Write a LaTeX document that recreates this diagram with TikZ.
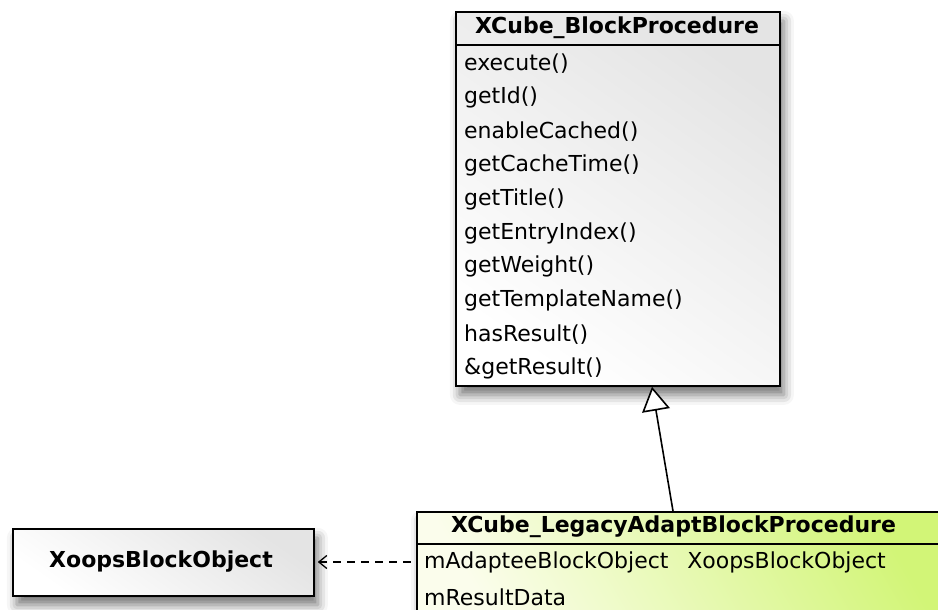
\documentclass[tikz,border=0pt]{standalone}
\usepackage{fontspec}
\setmainfont{DejaVu Sans}
\usetikzlibrary{arrows.meta,shadows.blur,calc}
\definecolor{boxgreyhi}{HTML}{E4E4E4}
\definecolor{limepale}{HTML}{FBFDEC}
\definecolor{limedeep}{HTML}{D2F577}
\begin{document}
\begin{tikzpicture}[x=1pt,y=-1pt,
  classbox/.style={draw=black, line width=1.8pt, rectangle, inner sep=0pt,
    blur shadow={shadow xshift=4pt, shadow yshift=-9pt, shadow blur radius=10pt, shadow opacity=55}},
  greyfill/.style={top color=boxgreyhi, bottom color=white, shading angle=-35},
  limefill/.style={top color=limedeep, bottom color=limepale, shading angle=-60},
  divider/.style={line width=1.6pt},
  txt/.style={inner sep=0pt, font=\fontsize{22pt}{26pt}\selectfont},
  title/.style={txt, font=\fontsize{22pt}{26pt}\selectfont\bfseries},
  member/.style={txt, anchor=west},
  gen/.style={line width=1.6pt, -{Triangle[open, length=24pt, width=28pt, line width=1.6pt, fill=white]}},
  dep/.style={line width=1.3pt, dash pattern=on 8pt off 6pt, {Straight Barb[length=8pt, width=13pt, line width=1.3pt]}-, shorten <=3pt}
]
\useasboundingbox (0,0) rectangle (938,610);

% abstract procedure class
\node[classbox, greyfill, anchor=north west, minimum width=324pt, minimum height=374pt] (proc) at (455,11) {};
\draw[divider] ($(proc.north west)+(0,34)$) -- ($(proc.north east)+(0,34)$);
\node[title] (procTitle) at (617,28) {XCube\_BlockProcedure};
\foreach \t [count=\i] in {execute(), getId(), enableCached(), getCacheTime(), getTitle(),
    getEntryIndex(), getWeight(), getTemplateName(), hasResult(), \&getResult()}
  \node[member] (m\i) at (464, {64+33.8*(\i-1)}) {\t};

% legacy object
\node[classbox, greyfill, anchor=north west, minimum width=301pt, minimum height=67pt] (xoops) at (12,528) {};
\node[title] (xoopsTitle) at (161,561.5) {XoopsBlockObject};

% adapter class
\node[classbox, limefill, anchor=north west, minimum width=540pt, minimum height=120pt] (adapter) at (416,511) {};
\draw[divider] ($(adapter.north west)+(0,33)$) -- ($(adapter.north east)+(0,33)$);
\node[title] (adapterTitle) at (673.5,527) {XCube\_LegacyAdaptBlockProcedure};
\node[member] (a1) at (424,562) {mAdapteeBlockObject\hspace{0.85em}XoopsBlockObject};
\node[member] (a2) at (424,597) {mResultData};

% relations
\draw[gen] ($(adapter.north west)+(257,0)$) -- ($(proc.south west)+(197,0)$);
\draw[dep] (xoops.east |- a1) -- (adapter.west |- a1);
\end{tikzpicture}
\end{document}
